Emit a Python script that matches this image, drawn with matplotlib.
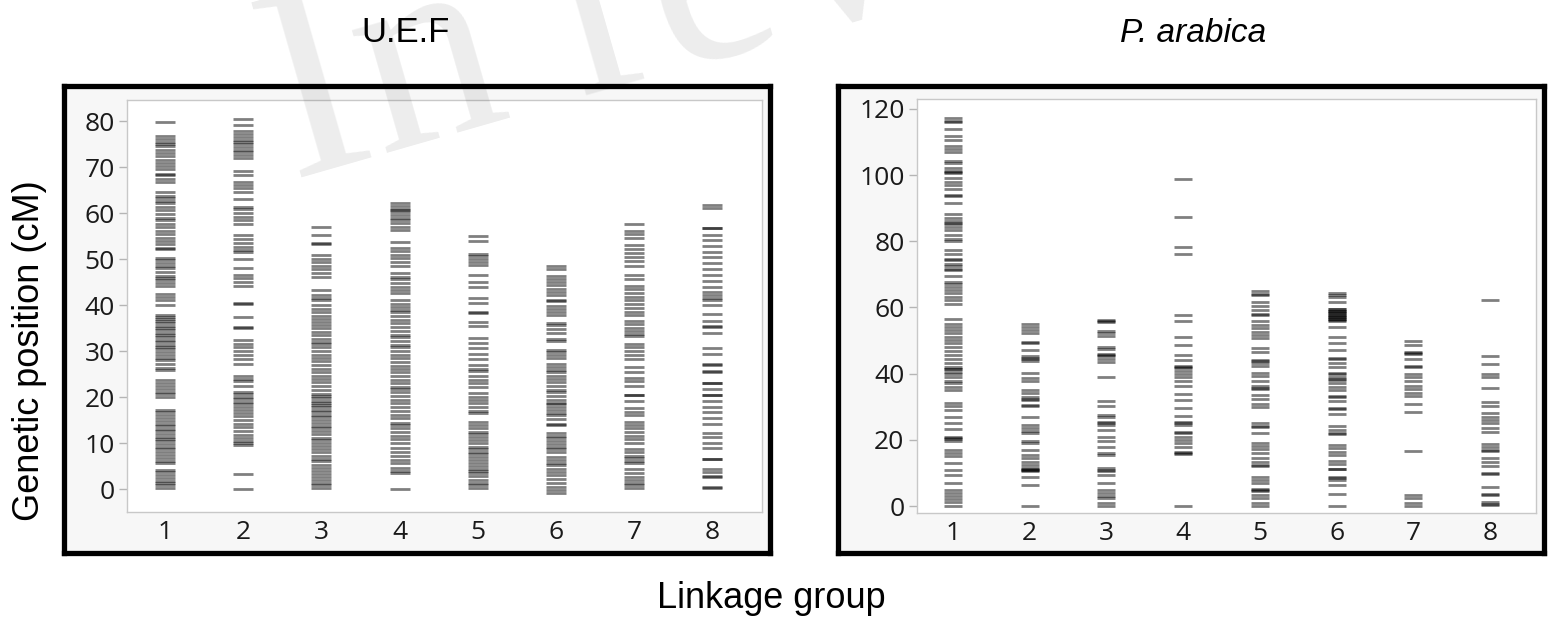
#!/usr/bin/env python3
"""
Marker distribution along the eight linkage groups of two genetic maps.
Each marker is a short semi-transparent dash, so dense regions read darker.
"""

import matplotlib
matplotlib.use("Agg")
import matplotlib.pyplot as plt

# Linkage group labels (shared by both maps)
groups = [1, 2, 3, 4, 5, 6, 7, 8]

# U.E.F map: marker positions (cM) per linkage group
uef_lg1 = [79.8,
           76.8, 76.2, 75.5, 75.0, 74.6, 73.8, 73.0, 72.4, 71.6, 71.0, 70.2, 69.6, 68.5, 68.2, 67.4, 66.8,
           64.6, 63.8, 63.2, 62.6, 62.2, 61.4, 60.6, 59.8, 59.0, 58.4, 57.6, 57.0, 56.2, 55.4, 54.6, 54.0,
           53.2, 52.4, 52.1,
           50.2, 49.8, 49.2, 48.6, 48.0, 47.2, 46.4, 45.8, 45.4, 44.8, 44.2,
           42.4, 41.8, 41.0, 40.0,
           37.8, 37.4, 37.0, 36.6, 36.0, 35.4, 35.0, 34.6, 34.0, 33.6, 33.0, 32.4, 32.0, 31.4, 30.8, 30.4,
           29.8, 29.2, 28.6, 28.0, 27.2, 26.4, 25.8,
           23.6, 23.0, 22.4, 21.8, 21.2, 20.6, 20.0,
           17.2, 16.8, 16.0, 15.4, 14.8, 14.2, 13.6, 13.0, 12.6, 12.0, 11.4, 10.8, 10.4, 9.8, 9.2, 8.6,
           8.0, 7.4, 6.8, 6.2, 5.6,
           4.2, 3.6, 3.0, 2.4, 1.8, 1.4, 0.8, 0.2]
uef_lg2 = [80.4, 79.1, 77.8, 77.2, 76.6, 76.0, 75.4, 75.0, 74.4, 73.8, 73.2, 72.6, 72.0,
           69.1, 68.2, 66.8, 66.2, 65.4, 64.6, 63.0, 61.4, 60.8, 60.0, 59.2, 58.6, 57.6,
           55.2, 54.4, 53.6, 52.6, 52.0, 51.6, 50.1, 48.0, 46.5, 45.8, 45.0, 44.2,
           40.4, 40.3, 37.5, 35.2, 35.0, 32.5, 31.6, 30.8, 30.0, 29.2, 28.2, 27.2,
           24.6, 24.0, 23.4, 22.4, 21.0, 20.6, 20.0, 19.6, 19.0, 18.4, 17.8, 17.2, 16.6, 15.8, 15.0,
           14.2, 13.4, 12.6, 11.8, 11.0, 10.4, 10.0, 9.6,
           3.2, 0.0]
uef_lg3 = [56.9, 55.2, 53.5, 53.3, 50.8, 50.0, 49.4, 48.6, 47.8, 47.0, 46.2,
           43.3, 42.2, 41.6, 41.0, 40.0, 39.2, 38.6, 37.6, 37.0, 36.4, 35.6, 35.0, 34.2, 33.6, 32.6,
           32.0, 31.6, 30.8, 30.0, 29.2, 28.4, 27.8, 27.0, 26.2, 25.4, 24.6, 24.0, 23.2, 22.4, 21.6,
           20.6, 20.2, 19.8, 19.2, 18.8, 18.2, 17.8, 17.2, 16.8, 16.2, 15.6, 15.0, 14.4, 13.8, 13.2,
           12.6, 12.0, 11.2, 10.6, 10.0, 9.4, 8.6, 8.0, 7.2, 6.6, 6.0, 5.2, 4.6, 4.0, 3.2, 2.6, 2.0,
           1.4, 0.8, 0.2]
uef_lg4 = [62.2, 61.6, 61.0, 60.6, 60.2, 59.6, 59.0, 58.4, 57.8, 57.0, 56.4,
           53.8, 52.4, 51.8, 51.0, 50.2, 49.4, 48.6, 47.0, 46.2, 45.6, 44.8, 44.0, 43.2, 42.6,
           41.0, 40.2, 39.6, 39.0, 38.4, 37.6, 36.8, 36.0, 35.2, 34.4, 33.6, 33.0, 32.2, 31.4, 30.8,
           30.0, 29.2, 28.4, 27.6, 26.8, 26.0, 25.4, 24.6, 23.8, 23.0, 22.2, 21.8, 21.0, 20.2, 19.4,
           18.6, 17.8, 17.0, 16.2, 15.4, 14.4, 14.0, 13.2, 12.4, 11.6, 10.8, 10.0, 9.0, 8.0, 7.2,
           6.4, 5.6, 4.6, 4.0, 3.4,
           0.0]
uef_lg5 = [55.0, 54.0, 51.2, 50.6, 50.0, 49.4, 48.7, 46.5, 45.1, 44.0, 41.5, 40.4, 38.3, 38.4,
           36.4, 35.4, 32.8, 31.7, 30.6, 29.3, 28.2, 27.0, 26.0, 25.6, 24.6, 23.8, 23.0, 22.2,
           20.8, 20.0, 19.4, 18.8, 17.8, 17.0, 16.5,
           14.6, 14.0, 13.2, 12.4, 12.0, 11.4, 10.6, 10.0, 9.2, 8.6, 8.0, 7.6, 7.0, 6.4, 5.6, 5.0,
           4.4, 4.0, 3.4, 2.8, 2.0, 1.4, 0.8, 0.2]
uef_lg6 = [48.6, 47.8, 46.4, 45.6, 45.0, 44.4, 43.6, 42.8, 42.2, 41.0, 40.8, 39.8, 39.2, 38.6, 37.8,
           36.2, 35.6, 34.8, 34.0, 32.6, 32.2,
           30.2, 29.8, 29.2, 28.4, 27.2, 26.6, 25.8, 25.4, 24.6, 24.0, 23.2, 22.4, 21.6, 21.0, 20.2,
           19.4, 18.8, 18.4, 17.8, 17.2, 16.6, 16.0, 15.2, 14.2, 14.0,
           12.2, 11.6, 11.0, 10.4, 9.8, 9.2, 8.6, 8.0, 7.0, 6.4, 5.6, 5.2, 4.4, 3.6, 3.0, 2.2, 1.4,
           0.4, -0.2, -0.8]
uef_lg7 = [57.6, 56.2, 55.4, 54.6, 53.0, 52.2, 51.4, 50.4, 49.6, 48.4, 46.6, 45.6, 44.2, 43.4,
           42.6, 41.8, 41.0, 40.2, 39.4, 38.6, 37.8,
           36.6, 35.8, 35.0, 34.4, 33.8, 33.2,
           31.6, 30.8, 30.0, 29.2, 28.2, 26.6, 25.4, 24.2, 23.4, 22.4, 20.4, 20.5, 19.2, 17.6, 16.8,
           16.0, 14.6, 14.0, 13.2, 12.4, 11.6, 10.8, 10.0, 8.8, 8.0, 7.2, 6.8, 6.2, 5.6, 4.4, 3.4,
           2.6, 2.0, 1.4, 0.8, 0.2]
uef_lg8 = [61.8, 61.2, 56.7, 56.8, 55.2, 54.1, 52.8, 51.6, 50.5, 49.2, 47.8, 46.5, 45.3, 44.0,
           42.9, 42.2, 41.5, 41.2, 40.0, 38.0, 36.6, 35.3, 35.4, 34.0, 30.6, 29.3, 27.0, 27.1,
           25.5, 25.6, 23.0, 23.1, 21.7, 20.4, 20.5, 19.1, 17.9, 16.7, 15.4, 14.1, 12.1, 11.4,
           10.1, 9.0, 6.5, 6.6, 4.3, 3.8, 2.7, 2.8, 0.2, 0.4]

# P. arabica map: marker positions (cM) per linkage group
ara_lg1 = [117.3, 116.5, 115.9, 113.9, 111.9, 110.5, 108.7, 107.9, 106.9, 104.2, 103.7, 102.1,
           101.1, 100.6, 100.8, 99.1, 97.8, 97.1, 95.8, 94.1, 93.6, 91.5,
           88.3, 87.0, 86.0, 85.3, 85.6, 84.3, 83.3, 82.0, 80.7, 80.0,
           77.4, 76.2, 74.6, 74.2, 73.2, 72.4, 71.4, 71.6, 69.4, 67.8, 67.2, 66.1, 65.3, 64.3,
           63.3, 62.3, 61.1,
           56.5, 55.1, 54.2, 53.2, 52.2, 51.2, 50.2, 49.2, 48.0, 47.0, 45.7, 44.4, 43.2, 42.1,
           41.3, 41.5, 40.6, 39.9, 38.9, 37.9, 37.1, 36.1, 35.1,
           31.1, 30.2, 29.0, 26.8, 25.2, 23.2, 20.8, 20.2, 20.5, 19.8, 16.9, 16.1, 15.1, 12.9,
           10.9, 9.4, 7.1, 5.0, 4.0, 3.0, 2.0, 1.3, 0.0]
ara_lg2 = [55.1, 54.2, 53.2, 52.2, 49.4, 49.5, 47.2, 45.2, 44.4, 44.6, 43.7, 40.1, 38.6, 37.9,
           35.1, 34.1, 33.1, 32.1, 32.3, 30.2, 30.4, 26.8, 24.5, 23.5, 22.8, 22.0, 19.8, 19.0,
           16.9, 15.4, 14.4, 13.4, 12.4, 11.4, 11.0, 11.2, 10.6, 10.9, 8.9, 6.4, 0.0]
ara_lg3 = [56.1, 55.5, 55.8, 53.0, 52.4, 51.4, 48.2, 47.4, 46.0, 45.4, 45.6, 44.4, 43.4, 38.9,
           31.6, 30.2, 27.5, 26.8, 25.5, 25.2, 24.5, 23.0, 21.0, 19.8, 17.7, 16.1, 15.4, 11.4,
           10.7, 11.0, 9.4, 7.1, 5.0, 4.0, 3.0, 2.3, 1.0, 0.0]
ara_lg4 = [98.9, 87.4, 78.3, 76.2, 57.6, 55.9, 51.1, 48.7, 45.7, 44.2, 42.1, 42.3, 41.8, 40.9,
           39.9, 38.9, 37.9, 36.3, 33.9, 32.1, 29.5, 27.2, 25.5, 25.2, 24.5, 22.5, 22.2, 21.0,
           20.0, 19.0, 17.9, 16.4, 16.1, 15.7, 0.0]
ara_lg5 = [65.1, 63.8, 64.2, 61.6, 60.5, 59.1, 57.8, 58.1, 55.8, 54.7, 53.7, 52.7, 51.7, 50.7,
           47.7, 46.4, 44.2, 43.9, 43.2, 42.3, 40.3, 39.3, 37.9, 36.3, 35.3, 35.6, 33.6, 32.3,
           30.9, 29.8, 25.2, 23.8, 24.1, 22.2, 19.2, 18.1, 17.1, 16.1, 14.4, 13.4, 12.1, 12.3,
           8.9, 7.9, 6.9, 5.3, 5.0, 4.6, 3.3, 2.3, 0.8, 0.0]
ara_lg6 = [64.5, 63.9, 63.3, 61.8,
           59.5, 59.4, 59.0, 58.8, 58.6, 58.2, 58.0, 57.8, 57.4, 57.2, 57.0, 56.6, 56.4, 56.2, 55.8,
           54.2, 51.2, 49.2, 47.2, 44.4, 44.6, 43.2, 42.1, 40.1, 39.8, 39.1, 38.4, 38.1, 37.1, 36.1,
           35.1, 33.1, 33.3, 31.6, 29.5, 29.2, 27.8, 24.2, 23.0, 22.0, 21.8, 18.5, 17.4, 16.4,
           15.4, 13.7, 12.7, 11.1, 11.3, 8.9, 8.6, 7.9, 6.4, 3.6, 0.0]
ara_lg7 = [50.0, 48.7, 46.2, 46.4, 46.0, 44.4, 42.1, 42.3, 39.9, 38.9, 37.9, 36.3, 35.3, 34.3,
           33.3, 30.9, 28.3, 16.6, 3.3, 2.3, 1.0, 0.0]
ara_lg8 = [62.3, 45.4, 43.0, 39.9, 38.9, 35.6, 31.3, 30.2, 28.0, 27.0, 26.0, 25.0, 23.5, 22.5,
           18.8, 17.7, 16.7, 16.9, 14.4, 13.4, 12.1, 9.7, 9.9, 5.8, 3.3, 3.5, 1.3, 0.3, 0.5]

uef = [uef_lg1, uef_lg2, uef_lg3, uef_lg4, uef_lg5, uef_lg6, uef_lg7, uef_lg8]
arabica = [ara_lg1, ara_lg2, ara_lg3, ara_lg4, ara_lg5, ara_lg6, ara_lg7, ara_lg8]

uef_yticks = [0, 10, 20, 30, 40, 50, 60, 70, 80]
arabica_yticks = [0, 20, 40, 60, 80, 100, 120]

W, H = 1557, 624


def px_rect(x0, y0, x1, y1):
    """Pixel box (top-left origin) -> figure-fraction rect."""
    return [x0 / W, 1 - y1 / H, (x1 - x0) / W, (y1 - y0) / H]


def draw_panel(fig, frame_box, axes_box, data, yticks, xlim, ylim, dash):
    # thick black frame around each panel
    frame = fig.add_axes(px_rect(*frame_box))
    frame.set_facecolor("#F7F7F7")
    frame.set_xticks([])
    frame.set_yticks([])
    for s in frame.spines.values():
        s.set_linewidth(3.8)
        s.set_color("black")

    ax = fig.add_axes(px_rect(*axes_box))
    ax.set_facecolor("white")
    for g, positions in zip(groups, data):
        ax.plot([g] * len(positions), positions, linestyle="none", marker="_",
                markersize=dash, markeredgewidth=2.0, color="black", alpha=0.5)

    ax.set_xlim(*xlim)
    ax.set_ylim(*ylim)
    ax.set_xticks(groups)
    ax.set_yticks(yticks)
    ax.tick_params(axis="x", length=0, pad=6, labelsize=19, labelcolor="#1A1A1A")
    ax.tick_params(axis="y", length=6, width=1, color="#B5B5B5", pad=3,
                   labelsize=19, labelcolor="#1A1A1A")
    for lab in ax.get_xticklabels() + ax.get_yticklabels():
        lab.set_family(["Open Sans", "DejaVu Sans"])
    for s in ax.spines.values():
        s.set_color("#C8C8C8")
        s.set_linewidth(1.0)
    return ax


def main():
    fig = plt.figure(figsize=(W / 100, H / 100), dpi=100)

    draw_panel(fig, (64, 86, 770, 553), (127, 100, 762, 512), uef, uef_yticks,
               (0.51, 8.64), (-5.0, 84.6), 14.5)
    draw_panel(fig, (838, 86, 1544, 553), (917, 99, 1536, 513), arabica, arabica_yticks,
               (0.53, 8.6), (-2.1, 123.0), 13.5)

    sans = ["Liberation Sans", "DejaVu Sans"]
    fig.text(406 / W, 1 - 33 / H, "U.E.F", ha="center", va="center", fontsize=25, family=sans)
    fig.text(1193 / W, 1 - 33 / H, "P. arabica", ha="center", va="center", fontsize=24,
             style="italic", family=sans)
    fig.text(30 / W, 1 - 351 / H, "Genetic position (cM)", rotation=90, ha="center",
             va="center", fontsize=26, family=sans)
    fig.text(771 / W, 1 - 598 / H, "Linkage group", ha="center", va="center", fontsize=26,
             family=sans)

    # faint review watermark across the top
    fig.text(292 / W, 1 - 180 / H, "In review", rotation=16, rotation_mode="anchor",
             ha="left", va="baseline", fontsize=200, color="black", alpha=0.075,
             family=["Liberation Serif", "DejaVu Serif"], zorder=10)

    fig.savefig("out.png", dpi=100)
    plt.close(fig)


if __name__ == "__main__":
    main()
